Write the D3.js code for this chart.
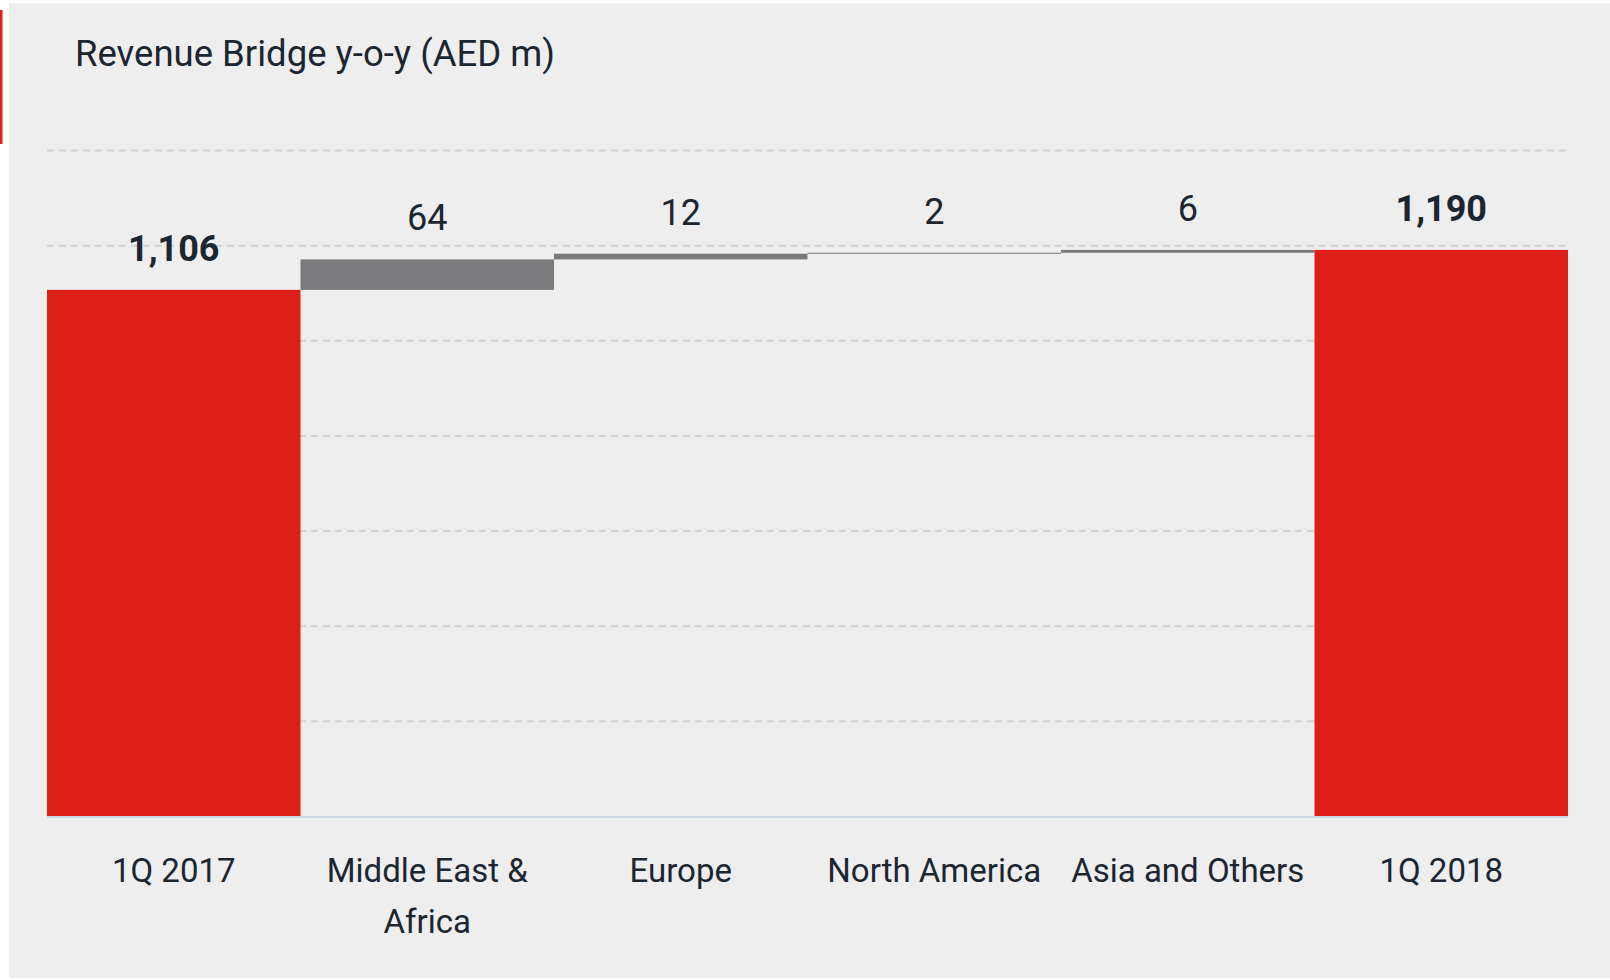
<!DOCTYPE html>
<html>
<head>
<meta charset="utf-8">
<script src="https://cdn.jsdelivr.net/npm/d3@7"></script>
<style>
  html, body { margin: 0; padding: 0; background: #ffffff; }
  svg { display: block; font-family: Roboto, "Open Sans", sans-serif; }
</style>
</head>
<body>
<div id="chart"></div>
<script>
// bridge data (AED m)
const categories = ["1Q 2017", "Middle East & Africa", "Europe", "North America", "Asia and Others", "1Q 2018"];
const values = [1106, 64, 12, 2, 6, 1190];
const kinds = ["total", "delta", "delta", "delta", "delta", "total"];
const yTicks = [0, 200, 400, 600, 800, 1000, 1200, 1400];
const title = "Revenue Bridge y-o-y (AED m)";

const W = 1610, H = 980;
const textColor = "#1c2631";

// running totals for the floating bars
let running = 0;
const bars = categories.map((c, i) => {
  let y0, y1;
  if (kinds[i] === "total") { y0 = 0; y1 = values[i]; running = values[i]; }
  else { y0 = running; y1 = running + values[i]; running = y1; }
  return { cat: c, value: values[i], kind: kinds[i], y0, y1 };
});

const svg = d3.select("#chart").append("svg").attr("width", W).attr("height", H);

// panel + red accent
svg.append("rect").attr("x", 9).attr("y", 3).attr("width", W - 9).attr("height", 975).attr("fill", "#eeeeee");
svg.append("rect").attr("x", 0).attr("y", 10).attr("width", 2.5).attr("height", 134).attr("fill", "#dc1f18");

svg.append("text")
  .attr("x", 75).attr("y", 66)
  .style("font-size", "36.5px")
  .style("fill", textColor)
  .text(title);

const x = d3.scaleBand().domain(categories).range([47, 1568]).padding(0);
const y = d3.scaleLinear().domain([0, 1400]).range([816, 150]);

// dashed gridlines
const grid = svg.append("g")
  .attr("transform", `translate(47,0)`)
  .call(d3.axisLeft(y).tickValues(yTicks.filter(d => d > 0)).tickSize(-(1568 - 47)).tickFormat(""));
grid.select(".domain").remove();
grid.selectAll("line")
  .attr("stroke", "#d2d2d2")
  .attr("stroke-width", 2)
  .attr("stroke-dasharray", "7,5");

// bars
svg.append("g")
  .selectAll("rect")
  .data(bars)
  .join("rect")
  .attr("x", d => x(d.cat))
  .attr("width", x.bandwidth())
  .attr("y", d => y(d.y1))
  .attr("height", d => Math.max(1, y(d.y0) - y(d.y1)))
  .attr("fill", d => d.kind === "total" ? "#dc1f18" : "#7a7a7c");

// baseline
svg.append("line")
  .attr("x1", 47).attr("x2", 1568)
  .attr("y1", y(0) + 1).attr("y2", y(0) + 1)
  .attr("stroke", "#cfd8e1")
  .attr("stroke-width", 2);

// value labels
svg.append("g")
  .selectAll("text")
  .data(bars)
  .join("text")
  .attr("x", d => x(d.cat) + x.bandwidth() / 2)
  .attr("y", d => y(d.y1) - 29)
  .attr("text-anchor", "middle")
  .style("font-size", "36px")
  .style("font-weight", d => d.kind === "total" ? 700 : 400)
  .style("fill", textColor)
  .text(d => d3.format(",")(d.value));

// category axis
const xAxis = svg.append("g")
  .attr("transform", `translate(0,${y(0)})`)
  .call(d3.axisBottom(x).tickSize(0));
xAxis.select(".domain").remove();
xAxis.selectAll("text")
  .style("font-size", "33px")
  .style("font-family", "Roboto, 'Open Sans', sans-serif")
  .style("fill", textColor)
  .attr("y", 66)
  .attr("dy", 0)
  .call(wrap, x.bandwidth() - 12);

function wrap(texts, width) {
  texts.each(function () {
    const text = d3.select(this);
    const words = text.text().split(/\s+/);
    const yy = text.attr("y");
    let line = [];
    let lineNo = 0;
    let tspan = text.text(null).append("tspan").attr("x", 0).attr("y", yy);
    words.forEach(w => {
      line.push(w);
      tspan.text(line.join(" "));
      if (tspan.node().getComputedTextLength() > width && line.length > 1) {
        line.pop();
        tspan.text(line.join(" "));
        line = [w];
        lineNo++;
        tspan = text.append("tspan").attr("x", 0).attr("y", +yy + lineNo * 51).text(w);
      }
    });
  });
}
</script>
</body>
</html>
